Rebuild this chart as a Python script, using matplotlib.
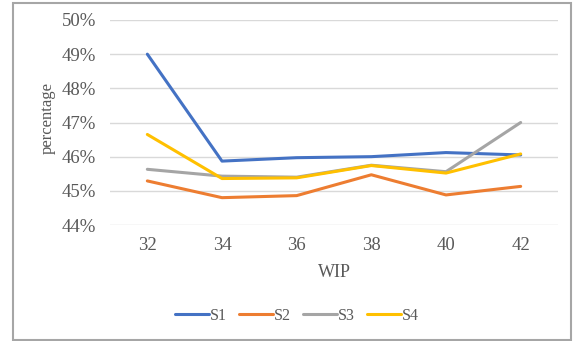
import numpy as np
import matplotlib.pyplot as plt
from matplotlib.patches import Rectangle
from matplotlib.ticker import FuncFormatter

plt.rcParams["font.family"] = ["Liberation Serif", "DejaVu Serif"]

wip = ["32", "34", "36", "38", "40", "42"]
s1 = [49.00, 45.87, 45.97, 46.00, 46.12, 46.05]
s2 = [45.29, 44.80, 44.86, 45.47, 44.88, 45.13]
s3 = [45.63, 45.43, 45.40, 45.75, 45.56, 47.00]
s4 = [46.65, 45.36, 45.38, 45.74, 45.52, 46.08]

series = [("S1", s1, "#4472C4"), ("S2", s2, "#ED7D31"),
          ("S3", s3, "#A5A5A5"), ("S4", s4, "#FFC000")]

fig = plt.figure(figsize=(5.76, 3.41), dpi=100)
ax = fig.add_axes([110 / 576, 1 - 225 / 341, 448 / 576, 205 / 341])

x = np.arange(len(wip))
for name, vals, color in series:
    ax.plot(x, vals, color=color, lw=2.2, label=name, solid_capstyle="round")

ax.set_xlim(-0.5, len(wip) - 0.5)
ax.set_ylim(44, 50)
ax.set_yticks(np.arange(44, 51, 1))
ax.yaxis.set_major_formatter(FuncFormatter(lambda v, p: f"{v:.0f}%"))
ax.set_xticks(x)
ax.set_xticklabels(wip)

ax.grid(axis="y", color="#d9d9d9", lw=1)
ax.set_axisbelow(True)
for sp in ax.spines.values():
    sp.set_visible(False)
ax.tick_params(length=0, colors="#595959", labelsize=13.5)
ax.tick_params(axis="x", pad=9)
ax.tick_params(axis="y", pad=10)

ax.set_xlabel("WIP", color="#595959", fontsize=13, labelpad=7)
ax.set_ylabel("percentage", color="#595959", fontsize=12)
ax.yaxis.set_label_coords(-0.122, 0.52)

leg = fig.legend(loc="center", bbox_to_anchor=(297 / 576, 1 - 316 / 341),
                 ncol=4, frameon=False, fontsize=11.5, handlelength=2.1,
                 handletextpad=0.05, columnspacing=0.8)
for t in leg.get_texts():
    t.set_color("#595959")

fig.patches.append(Rectangle((13 / 576, 1 / 341), 558 / 576, 337 / 341,
                             transform=fig.transFigure, fill=False,
                             edgecolor="#a6a6a6", lw=1.5))

fig.savefig("out.png", dpi=100)
